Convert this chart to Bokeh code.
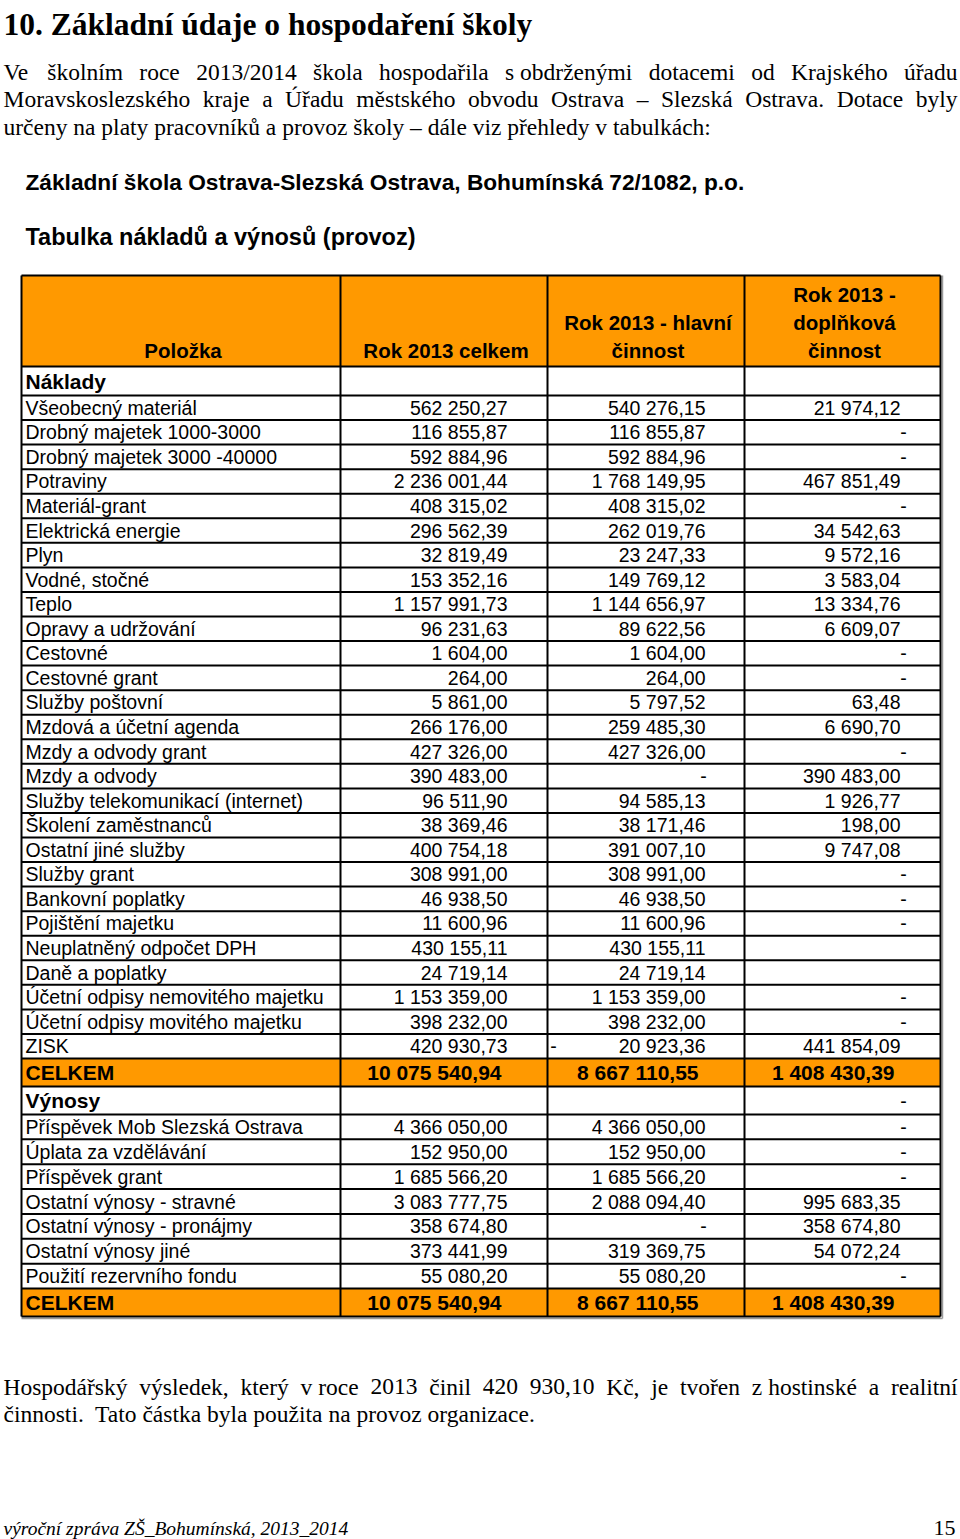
import unicodedata
from bokeh.plotting import figure
from bokeh.models import Range1d
from bokeh.core.properties import value
from bokeh.embed import file_html
from bokeh.resources import INLINE

# ------------------------------------------------------------------ data
nadpis = "10. Základní údaje o hospodaření školy"
odstavec_uvod = [
    "Ve školním roce 2013/2014 škola hospodařila s\u00a0obdrženými dotacemi od Krajského úřadu",
    "Moravskoslezského kraje a Úřadu městského obvodu Ostrava – Slezská Ostrava. Dotace byly",
    "určeny na platy pracovníků a provoz školy – dále viz přehledy v tabulkách:",
]
nazev_skoly = "Základní škola Ostrava-Slezská Ostrava, Bohumínská 72/1082, p.o."
nazev_tabulky = "Tabulka nákladů a výnosů (provoz)"
hlavicky = [["Položka"], ["Rok 2013 celkem"], ["Rok 2013 - hlavní", "činnost"],
            ["Rok 2013 -", "doplňková", "činnost"]]

naklady_polozky = ["Všeobecný materiál", "Drobný majetek 1000-3000", "Drobný majetek 3000 -40000",
                   "Potraviny", "Materiál-grant", "Elektrická energie", "Plyn", "Vodné, stočné",
                   "Teplo", "Opravy a udržování", "Cestovné", "Cestovné grant", "Služby poštovní",
                   "Mzdová a účetní agenda", "Mzdy a odvody grant", "Mzdy a odvody",
                   "Služby telekomunikací (internet)", "Školení zaměstnanců", "Ostatní jiné služby",
                   "Služby grant", "Bankovní poplatky", "Pojištění majetku",
                   "Neuplatněný odpočet DPH", "Daně a poplatky", "Účetní odpisy nemovitého majetku",
                   "Účetní odpisy movitého majetku", "ZISK"]
naklady_celkem = [562250.27, 116855.87, 592884.96, 2236001.44, 408315.02, 296562.39, 32819.49,
                  153352.16, 1157991.73, 96231.63, 1604.00, 264.00, 5861.00, 266176.00, 427326.00,
                  390483.00, 96511.90, 38369.46, 400754.18, 308991.00, 46938.50, 11600.96,
                  430155.11, 24719.14, 1153359.00, 398232.00, 420930.73]
naklady_hlavni = [540276.15, 116855.87, 592884.96, 1768149.95, 408315.02, 262019.76, 23247.33,
                  149769.12, 1144656.97, 89622.56, 1604.00, 264.00, 5797.52, 259485.30, 427326.00,
                  0, 94585.13, 38171.46, 391007.10, 308991.00, 46938.50, 11600.96,
                  430155.11, 24719.14, 1153359.00, 398232.00, -20923.36]
naklady_doplnkova = [21974.12, 0, 0, 467851.49, 0, 34542.63, 9572.16, 3583.04, 13334.76, 6609.07,
                     0, 0, 63.48, 6690.70, 0, 390483.00, 1926.77, 198.00, 9747.08, 0, 0, 0,
                     None, None, 0, 0, 441854.09]
naklady_soucet = [10075540.94, 8667110.55, 1408430.39]

vynosy_polozky = ["Příspěvek Mob Slezská Ostrava", "Úplata za vzdělávání", "Příspěvek grant",
                  "Ostatní výnosy - stravné", "Ostatní výnosy - pronájmy", "Ostatní výnosy jiné",
                  "Použití rezervního fondu"]
vynosy_celkem = [4366050.00, 152950.00, 1685566.20, 3083777.75, 358674.80, 373441.99, 55080.20]
vynosy_hlavni = [4366050.00, 152950.00, 1685566.20, 2088094.40, 0, 319369.75, 55080.20]
vynosy_doplnkova = [0, 0, 0, 995683.35, 358674.80, 54072.24, 0]
vynosy_soucet = [10075540.94, 8667110.55, 1408430.39]
vynosy_hlavicka = [None, None, 0]

odstavec_zaver = [
    "Hospodářský výsledek, který v\u00a0roce 2013 činil 420 930,10 Kč, je tvořen z\u00a0hostinské a realitní",
    "činnosti.\u00a0 Tato částka byla použita na provoz organizace.",
]
zapati = "výroční zpráva ZŠ_Bohumínská, 2013_2014"
cislo_strany = "15"

# ------------------------------------------------------------------ helpers
ORANGE = "#FF9900"
SANS = "Liberation Sans"
SERIF = "Liberation Serif"

p = figure(width=960, height=1539, x_range=Range1d(0, 960), y_range=Range1d(1539, 0),
           output_backend="svg", toolbar_location=None, min_border=0,
           x_axis_location=None, y_axis_location=None)
p.grid.visible = False
p.outline_line_color = None
p.background_fill_color = "white"
p.border_fill_color = "white"


def txt(xs, ys, ss, size, font=SANS, style="normal", align="left", baseline="middle"):
    p.text(x=xs, y=ys, text=ss, text_font=value(font), text_font_size=value(f"{size}px"),
           text_font_style=style, text_align=align, text_baseline=baseline, text_color="black")


TIMES = {' ': 250, '\u00a0': 250, 'a': 444, 'b': 500, 'c': 444, 'd': 500, 'e': 444, 'f': 333,
         'g': 500, 'h': 500, 'i': 278, 'j': 278, 'k': 500, 'l': 278, 'm': 778, 'n': 500,
         'o': 500, 'p': 500, 'q': 500, 'r': 333, 's': 389, 't': 278, 'u': 500, 'v': 500,
         'w': 722, 'x': 500, 'y': 500, 'z': 444, 'A': 722, 'B': 667, 'C': 667, 'D': 722,
         'E': 611, 'F': 556, 'G': 722, 'H': 722, 'I': 333, 'J': 389, 'K': 722, 'L': 611,
         'M': 889, 'N': 722, 'O': 722, 'P': 556, 'Q': 722, 'R': 667, 'S': 556, 'T': 611,
         'U': 722, 'V': 722, 'W': 944, 'X': 722, 'Y': 722, 'Z': 611, '.': 250, ',': 250,
         '/': 278, ':': 278, '–': 500, '-': 333, '(': 333, ')': 333, '_': 500}


def tw(s, size):
    tot = 0
    for c in s:
        b = unicodedata.normalize("NFD", c)[0]
        tot += TIMES.get(b, 500)
    return tot / 1000.0 * size


def justified(line, y, size, x0=3, x1=957):
    words = line.split(" ")
    widths = [tw(w, size) for w in words]
    gap = (x1 - x0 - sum(widths)) / (len(words) - 1)
    xs, x = [], x0
    for w in widths:
        xs.append(x)
        x += w + gap
    txt(xs[:-1], [y] * (len(words) - 1), words[:-1], size, font=SERIF)
    txt([x1], [y], [words[-1]], size, font=SERIF, align="right")


def cz(v):
    return f"{abs(v):,.2f}".replace(",", " ").replace(".", ",")


# ------------------------------------------------------------------ text above
txt([3], [24], [nadpis], 31.5, font=SERIF, style="bold", baseline="alphabetic")
P_SIZE = 23.5
justified(odstavec_uvod[0], 71, P_SIZE)
justified(odstavec_uvod[1], 98, P_SIZE)
txt([3], [126], [odstavec_uvod[2]], P_SIZE, font=SERIF)
txt([25], [181], [nazev_skoly], 22.7, style="bold")
txt([25], [236], [nazev_tabulky], 23.5, style="bold")

# ------------------------------------------------------------------ table layout
cols = [21, 340, 547, 744, 940]
edges = [275, 366, 395]
n1 = len(naklady_polozky)
h1 = (1058 - 395) / n1
for i in range(1, n1 + 1):
    edges.append(395 + i * h1)
edges += [1086, 1114]
n2 = len(vynosy_polozky)
h2 = (1288 - 1114) / n2
for i in range(1, n2 + 1):
    edges.append(1114 + i * h2)
edges.append(1316)

# orange fills: header, both CELKEM rows
i_c1 = 2 + n1           # CELKEM (naklady) row index
i_c2 = len(edges) - 2   # CELKEM (vynosy) row index
p.quad(left=[cols[0]] * 3, right=[cols[-1]] * 3,
       top=[edges[0], edges[i_c1], edges[i_c2]],
       bottom=[edges[1], edges[i_c1 + 1], edges[i_c2 + 1]],
       fill_color=ORANGE, line_color=None)

# faint shadow of outer frame
p.segment(x0=[cols[-1] + 2, cols[0]], x1=[cols[-1] + 2, cols[-1] + 2],
          y0=[edges[0], edges[-1] + 2], y1=[edges[-1] + 2, edges[-1] + 2],
          line_color="#9a9a9a", line_width=1.5)
# grid lines
p.segment(x0=[cols[0]] * len(edges), x1=[cols[-1]] * len(edges), y0=edges, y1=edges,
          line_color="black", line_width=2)
p.segment(x0=cols, x1=cols, y0=[edges[0]] * len(cols), y1=[edges[-1]] * len(cols),
          line_color="black", line_width=2)

# header texts
hx = [(cols[i] + cols[i + 1]) / 2 + 2 for i in range(4)]
hxs, hys, hss = [], [], []
for i, lines in enumerate(hlavicky):
    for j, s in enumerate(lines):
        hxs.append(hx[i])
        hys.append(350 - (len(lines) - 1 - j) * 28)
        hss.append(s)
txt(hxs, hys, hss, 20.5, style="bold", align="center")

R = [507, 705, 900]       # right edges of number columns
D = [505, 703, 903]       # dash centres
RB = [501, 698, 894]      # right edges of bold totals


def mid(i):
    return (edges[i] + edges[i + 1]) / 2


def value_row(yc, vals):
    nx, ny, ns, dx, dy = [], [], [], [], []
    for c, v in enumerate(vals):
        if v is None:
            continue
        if v == 0:
            dx.append(D[c]); dy.append(yc)
            continue
        nx.append(R[c]); ny.append(yc); ns.append(cz(v))
        if v < 0:
            dx.append(cols[c + 1] + 6); dy.append(yc)
    return nx, ny, ns, dx, dy


lab_x, lab_y, lab_s = [], [], []
num_x, num_y, num_s = [], [], []
dash_x, dash_y = [], []


def add_rows(start_idx, names, c1, c2, c3):
    for k, name in enumerate(names):
        yc = mid(start_idx + k)
        lab_x.append(25); lab_y.append(yc); lab_s.append(name)
        nx, ny, ns, dx, dy = value_row(yc, [c1[k], c2[k], c3[k]])
        num_x.extend(nx); num_y.extend(ny); num_s.extend(ns)
        dash_x.extend(dx); dash_y.extend(dy)


add_rows(2, naklady_polozky, naklady_celkem, naklady_hlavni, naklady_doplnkova)
add_rows(i_c1 + 2, vynosy_polozky, vynosy_celkem, vynosy_hlavni, vynosy_doplnkova)

# section header row "Výnosy" dash
_, _, _, dx, dy = value_row(mid(i_c1 + 1), vynosy_hlavicka)
dash_x.extend(dx); dash_y.extend(dy)

txt(lab_x, lab_y, lab_s, 19.5)
txt(num_x, num_y, num_s, 19.5, align="right")
txt(dash_x, dash_y, ["-"] * len(dash_x), 19.5, align="center")

# bold labels
txt([25, 25, 25, 25], [mid(1), mid(i_c1), mid(i_c1 + 1), mid(i_c2)],
    ["Náklady", "CELKEM", "Výnosy", "CELKEM"], 21, style="bold")
bx, by, bs = [], [], []
for row_i, tot in ((i_c1, naklady_soucet), (i_c2, vynosy_soucet)):
    for c in range(3):
        bx.append(RB[c]); by.append(mid(row_i)); bs.append(cz(tot[c]))
txt(bx, by, bs, 21, style="bold", align="right")

# ------------------------------------------------------------------ text below
justified(odstavec_zaver[0], 1386, P_SIZE)
txt([3], [1413], [odstavec_zaver[1]], P_SIZE, font=SERIF)
txt([3], [1528], [zapati], 19.5, font=SERIF, style="italic", baseline="alphabetic")
txt([955], [1527], [cislo_strany], 22, font=SERIF, align="right", baseline="alphabetic")

open("out.html", "w").write(file_html(p, INLINE))
